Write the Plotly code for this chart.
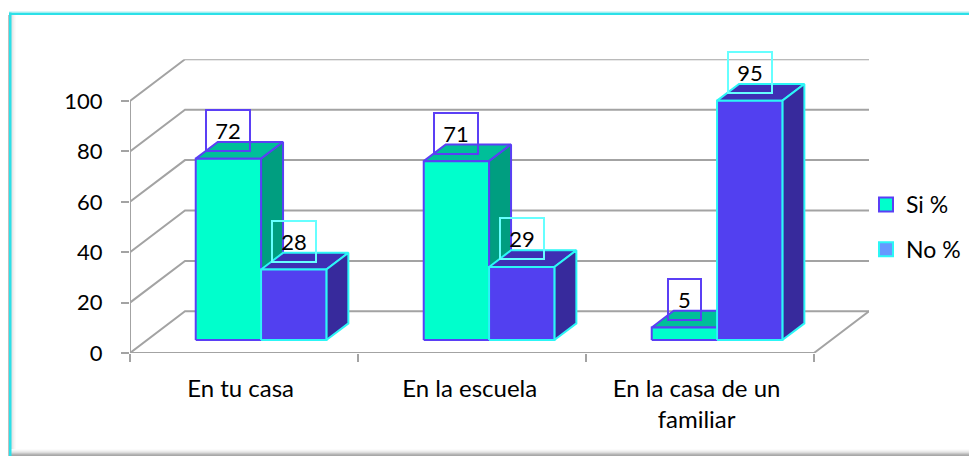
import plotly.graph_objects as go

W, H = 969, 456

categories = ["En tu casa", "En la escuela", "En la casa de un<br>familiar"]
si_values = [72, 71, 5]
no_values = [28, 29, 95]
y_ticks = [0, 20, 40, 60, 80, 100]
series_names = ["Si %", "No %"]

# oblique-projection geometry, pixels on the page
LEFT_PX, FLOOR_PX = 130, 353
CAT_PX, UNIT_PX = 228.0, 2.52
DEPTH_X_PX, DEPTH_Y_PX = 55.0, 41.7
BACK_RIGHT_PX = LEFT_PX + 3 * CAT_PX + DEPTH_X_PX
TOP_PX = FLOOR_PX - 100 * UNIT_PX - DEPTH_Y_PX

DX = DEPTH_X_PX / CAT_PX
DY = DEPTH_Y_PX / UNIT_PX
BAR_W = 0.2865
MARGIN = 0.2135
D0, D1 = 0.31, 0.71


def project(cat, val, depth):
    return cat + depth * DX, val + depth * DY


def faces(values, offset):
    front, side, top = ([], []), ([], []), ([], [])
    for i, v in enumerate(values):
        a = i + MARGIN + offset * BAR_W
        b = a + BAR_W
        quads = [
            (front, [(a, 0, D0), (b, 0, D0), (b, v, D0), (a, v, D0)]),
            (side, [(b, 0, D0), (b, 0, D1), (b, v, D1), (b, v, D0)]),
            (top, [(a, v, D0), (b, v, D0), (b, v, D1), (a, v, D1)]),
        ]
        for store, q in quads:
            for c, val, d in q + [q[0]]:
                x, y = project(c, val, d)
                store[0].append(x)
                store[1].append(y)
            store[0].append(None)
            store[1].append(None)
    return front, side, top


fig = go.Figure()

GRID = "#A3A3A3"
for v in y_ticks:
    pts = [project(0, v, 0), project(0, v, 1), project(3, v, 1)]
    fig.add_trace(go.Scatter(x=[p[0] for p in pts], y=[p[1] for p in pts], mode="lines",
                             line=dict(color=GRID, width=2), showlegend=False,
                             hoverinfo="skip", cliponaxis=False))
floor = [project(0, 100, 0), project(0, 0, 0), project(3, 0, 0), project(3, 0, 1)]
fig.add_trace(go.Scatter(x=[p[0] for p in floor], y=[p[1] for p in floor], mode="lines",
                         line=dict(color=GRID, width=2), showlegend=False,
                         hoverinfo="skip", cliponaxis=False))

styles = [
    (si_values, 0, "#00FFCC", "#009E80", "#00BF99", "#5B3FF5"),
    (no_values, 1, "#5240F0", "#372A9C", "#3E2FB4", "#2CF6F6"),
]
for values, off, c_front, c_side, c_top, c_line in styles:
    front, side, top = faces(values, off)
    for (xs, ys), col in ((top, c_top), (side, c_side), (front, c_front)):
        fig.add_trace(go.Scatter(x=xs, y=ys, mode="lines", fill="toself", fillcolor=col,
                                 line=dict(color=c_line, width=2), showlegend=False,
                                 hoverinfo="skip", cliponaxis=False))

# legend keys
legend_styles = [("#00FFCC", "#5B3FF5"), ("#6699FF", "#2CF6F6")]
for k, (name, (fill, edge)) in enumerate(zip(series_names, legend_styles)):
    fig.add_trace(go.Scatter(x=[None], y=[None], mode="markers", name=name,
                             legendgroup=name,
                             marker=dict(symbol="square", size=14, color=fill,
                                         line=dict(color=edge, width=2))))

FONT = "Lato"
FS = 22
annotations = []
for values, off, edge in ((si_values, 0, "#5B3FF5"), (no_values, 1, "#66FFFF")):
    for i, v in enumerate(values):
        cx, cy = project(i + MARGIN + (off + 0.5) * BAR_W, v, D0)
        annotations.append(dict(x=cx, y=cy, xref="x", yref="y", text=str(v), showarrow=False,
                                yshift=28, xanchor="center", yanchor="middle",
                                width=31 if v < 10 else 42, height=39,
                                bordercolor=edge, borderwidth=2, borderpad=0,
                                bgcolor="rgba(0,0,0,0)", align="center",
                                font=dict(family=FONT, size=FS, color="black")))


def rect(x0, y0, x1, y1, col):
    return dict(type="rect", xref="paper", yref="paper", layer="below",
                x0=x0 / W, x1=x1 / W, y0=1 - y0 / H, y1=1 - y1 / H,
                fillcolor=col, line=dict(width=0))


shapes = []
for n, col in enumerate(["#E0E0E0", "#E8E8E8", "#F0F0F0", "#F7F7F7", "#FBFBFB"]):
    shapes.append(rect(11 + n, 15, 12 + n, H, col))
for n, col in enumerate(["#FBFBFB", "#F4F4F4", "#EAEAEA", "#DDDDDD", "#C8C8C8", "#B4B4B4", "#A8A8A8"]):
    shapes.append(rect(11, 449 + n, W, 450 + n, col))
shapes.append(rect(8, 15, 9, H, "#C0C0C0"))
shapes.append(rect(9, 12, 11.5, H, "#2CE0E8"))
shapes.append(rect(9, 12.5, W, 15, "#2CE0E8"))
shapes.append(rect(9, 11.5, W, 12.5, "#B0EEF0"))

fig.update_layout(
    width=W, height=H, margin=dict(l=0, r=0, t=0, b=0, autoexpand=False),
    paper_bgcolor="white", plot_bgcolor="rgba(0,0,0,0)",
    font=dict(family=FONT, size=FS, color="black"),
    shapes=shapes, annotations=annotations,
    hovermode=False,
    legend=dict(x=866 / W, y=1 - 183 / H, xanchor="left", yanchor="top",
                bgcolor="rgba(0,0,0,0)", tracegroupgap=12, itemsizing="trace",
                font=dict(family=FONT, size=23, color="black"), itemwidth=30),
    xaxis=dict(domain=[LEFT_PX / W, BACK_RIGHT_PX / W],
               range=[0, (BACK_RIGHT_PX - LEFT_PX) / CAT_PX],
               showgrid=False, zeroline=False, showline=False,
               tickmode="array", tickvals=[0.485, 1.49, 2.485], ticktext=categories,
               ticks="", tickangle=0, ticklabelstandoff=19,
               tickfont=dict(family=FONT, size=24, color="black"),
               minor=dict(tickmode="array", tickvals=[0, 1, 2, 3], ticks="outside",
                          ticklen=8, tickwidth=2, tickcolor=GRID, showgrid=False)),
    yaxis=dict(domain=[1 - FLOOR_PX / H, 1 - TOP_PX / H],
               range=[0, (FLOOR_PX - TOP_PX) / UNIT_PX],
               showgrid=False, zeroline=False, showline=False,
               tickmode="array", tickvals=y_ticks, ticklabelstandoff=14,
               tickfont=dict(family=FONT, size=22, color="black"),
               ticks="outside", ticklen=8, tickwidth=2, tickcolor=GRID),
)

fig.write_html("out.html", config=dict(displayModeBar=False),
               post_script="document.body.style.margin='0';document.body.style.overflow='hidden';")
